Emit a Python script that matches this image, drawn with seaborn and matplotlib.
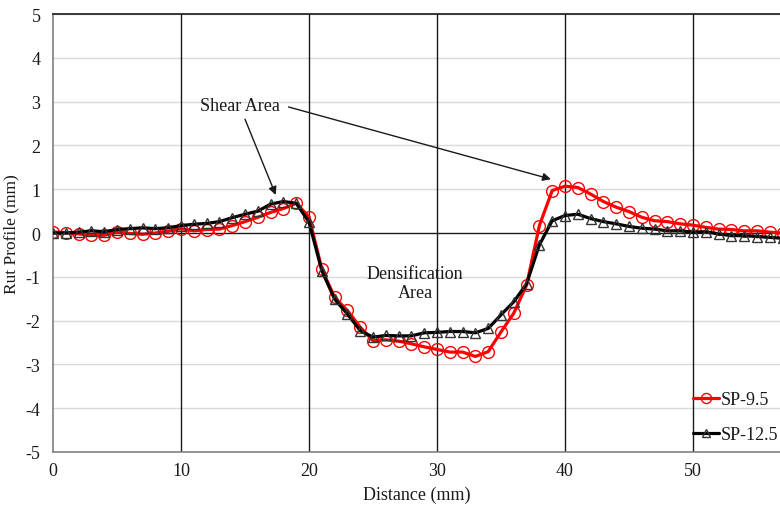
import numpy as np
import pandas as pd
import matplotlib
matplotlib.use("Agg")
import matplotlib.pyplot as plt
import seaborn as sns

distance = list(range(0, 58))
sp95 = [0.02, 0.01, -0.02, -0.05, -0.05, 0.02, -0.01, -0.03, 0.00, 0.04,
        0.10, 0.05, 0.08, 0.09, 0.17, 0.26, 0.36, 0.47, 0.56, 0.68,
        0.37, -0.82, -1.47, -1.77, -2.15, -2.46, -2.44, -2.47, -2.53, -2.60,
        -2.66, -2.72, -2.72, -2.82, -2.71, -2.26, -1.83, -1.19, 0.17, 0.97,
        1.07, 1.04, 0.89, 0.72, 0.59, 0.49, 0.36, 0.28, 0.26, 0.21,
        0.18, 0.13, 0.09, 0.08, 0.05, 0.05, 0.02, 0.00]
sp125 = [0.00, 0.00, 0.02, 0.05, 0.03, 0.08, 0.10, 0.12, 0.10, 0.12,
         0.17, 0.20, 0.22, 0.26, 0.35, 0.43, 0.50, 0.66, 0.72, 0.68,
         0.25, -0.86, -1.51, -1.85, -2.23, -2.38, -2.34, -2.35, -2.35, -2.28,
         -2.27, -2.25, -2.25, -2.28, -2.18, -1.87, -1.57, -1.16, -0.27, 0.28,
         0.40, 0.43, 0.33, 0.26, 0.21, 0.15, 0.11, 0.09, 0.05, 0.05,
         0.02, 0.03, -0.02, -0.06, -0.06, -0.08, -0.10, -0.12]
series_names = ["SP-9.5", "SP-12.5"]
x_ticks = [0, 10, 20, 30, 40, 50]
y_ticks = [-5, -4, -3, -2, -1, 0, 1, 2, 3, 4, 5]

df = pd.DataFrame({"Distance": distance, "SP-9.5": sp95, "SP-12.5": sp125})

sns.set_theme(style="white")
plt.rcParams["font.family"] = ["Liberation Serif", "DejaVu Serif"]
plt.rcParams["axes.unicode_minus"] = False

FS = 13

fig = plt.figure(figsize=(7.8, 5.06), dpi=100)
ax = fig.add_axes([0.068, 0.105, 0.932, 0.865])

# grid lines
for yv in y_ticks:
    if yv == 0:
        continue
    ax.axhline(yv, color="#d9d9d9", lw=1.0, zorder=0)
for xv in x_ticks[1:]:
    ax.axvline(xv, color="#1a1a1a", lw=1.0, zorder=0)
ax.axhline(0, color="#1a1a1a", lw=1.0, zorder=0.5)

sns.lineplot(data=df, x="Distance", y="SP-9.5", ax=ax, color="#ff0000", lw=2.3,
             marker="o", markersize=8.5, markerfacecolor="none",
             markeredgecolor="#ff0000", markeredgewidth=1.0, label=series_names[0],
             zorder=3)
sns.lineplot(data=df, x="Distance", y="SP-12.5", ax=ax, color="black", lw=2.3,
             marker="^", markersize=7.5, markerfacecolor="none",
             markeredgecolor="#333333", markeredgewidth=1.0, label=series_names[1],
             zorder=4)

ax.set_xlim(0, 56.8)
ax.set_ylim(-5, 5)
ax.set_xticks(x_ticks)
ax.set_yticks(y_ticks)
ax.tick_params(axis="y", length=0, labelsize=FS, colors="#1a1a1a", pad=9)
ax.tick_params(axis="x", length=0, labelsize=FS, colors="#1a1a1a", pad=7)
ax.set_xlabel("Distance (mm)", fontsize=FS, color="#1a1a1a", labelpad=5)
ax.set_ylabel("Rut Profile (mm)", fontsize=12.5, color="#1a1a1a")
ax.yaxis.set_label_coords(-0.046, 0.5)

ax.spines["right"].set_visible(False)
ax.spines["left"].set_color("#808080")
ax.spines["bottom"].set_color("#808080")
ax.spines["top"].set_color("#1a1a1a")
for s in ["left", "bottom", "top"]:
    ax.spines[s].set_linewidth(1.2)

ax.annotate("", xy=(17.4, 0.87), xytext=(15.0, 2.6),
            arrowprops=dict(arrowstyle="-|>", color="#1a1a1a", lw=1.0,
                            mutation_scale=12, shrinkA=0, shrinkB=0))
ax.annotate("", xy=(38.9, 1.23), xytext=(18.4, 2.88),
            arrowprops=dict(arrowstyle="-|>", color="#1a1a1a", lw=1.0,
                            mutation_scale=12, shrinkA=0, shrinkB=0))
ax.text(14.6, 2.92, "Shear Area", fontsize=FS, ha="center", va="center",
        color="#1a1a1a")
ax.text(28.3, -1.15, "Densification\nArea", fontsize=FS, ha="center",
        va="center", color="#1a1a1a", linespacing=1.15)

leg = ax.legend(loc="lower right", bbox_to_anchor=(1.012, -0.005), frameon=False,
                fontsize=FS, handlelength=1.4, handletextpad=0.1,
                labelspacing=1.0, borderaxespad=0.2, markerscale=0.85)
for t in leg.get_texts():
    t.set_color("#1a1a1a")

fig.savefig("out.png", dpi=100)
